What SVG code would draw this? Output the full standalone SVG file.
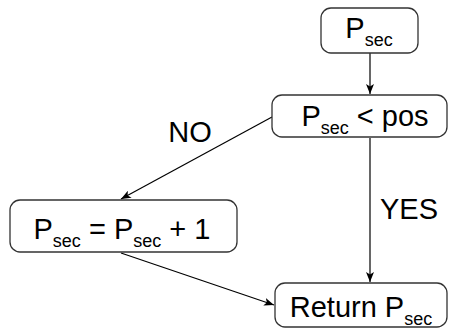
<svg xmlns="http://www.w3.org/2000/svg" width="460" height="333" viewBox="0 0 460 333">
  <defs>
    <marker id="arrow" viewBox="0 0 10 8" refX="10" refY="4" markerWidth="10" markerHeight="8" markerUnits="userSpaceOnUse" orient="auto">
      <path d="M0,0 L10,4 L0,8 L2.5,4 Z" fill="#000"/>
    </marker>
    <style>
      .box { fill: #fff; stroke: #333; stroke-width: 1.3; }
      .edge { fill: none; stroke: #000; stroke-width: 1.2; marker-end: url(#arrow); }
      .t { font-family: "Liberation Sans", Arial, sans-serif; font-size: 29px; fill: #000; }
      .sub { font-size: 18px; }
    </style>
  </defs>

  <!-- connectors -->
  <g id="edges">
    <line class="edge" x1="370" y1="53" x2="370" y2="94"/>
    <line class="edge" x1="272" y1="117" x2="121" y2="199"/>
    <line class="edge" x1="370" y1="138" x2="370" y2="282"/>
    <line class="edge" x1="121" y1="253" x2="274" y2="305"/>
    <text class="t" x="190" y="142" text-anchor="middle">NO</text>
    <text class="t" x="409" y="219" text-anchor="middle">YES</text>
  </g>

  <g id="start">
    <rect class="box" x="321" y="8" width="97" height="45" rx="10"/>
    <text class="t" x="369" y="38" text-anchor="middle">P<tspan class="sub" dy="8">sec</tspan></text>
  </g>

  <g id="check">
    <rect class="box" x="272" y="95" width="175" height="42" rx="10"/>
    <text class="t" x="365" y="126" text-anchor="middle">P<tspan class="sub" dy="8">sec</tspan><tspan dy="-8"> &lt; pos</tspan></text>
  </g>

  <g id="increment">
    <rect class="box" x="10" y="200" width="227" height="52" rx="10"/>
    <text class="t" x="122" y="239" text-anchor="middle">P<tspan class="sub" dy="8">sec</tspan><tspan dy="-8"> = P</tspan><tspan class="sub" dy="8">sec</tspan><tspan dy="-8"> + 1</tspan></text>
  </g>

  <g id="return">
    <rect class="box" x="275" y="283" width="172" height="44" rx="10"/>
    <text class="t" x="361" y="317" text-anchor="middle">Return P<tspan class="sub" dy="8">sec</tspan></text>
  </g>
</svg>
